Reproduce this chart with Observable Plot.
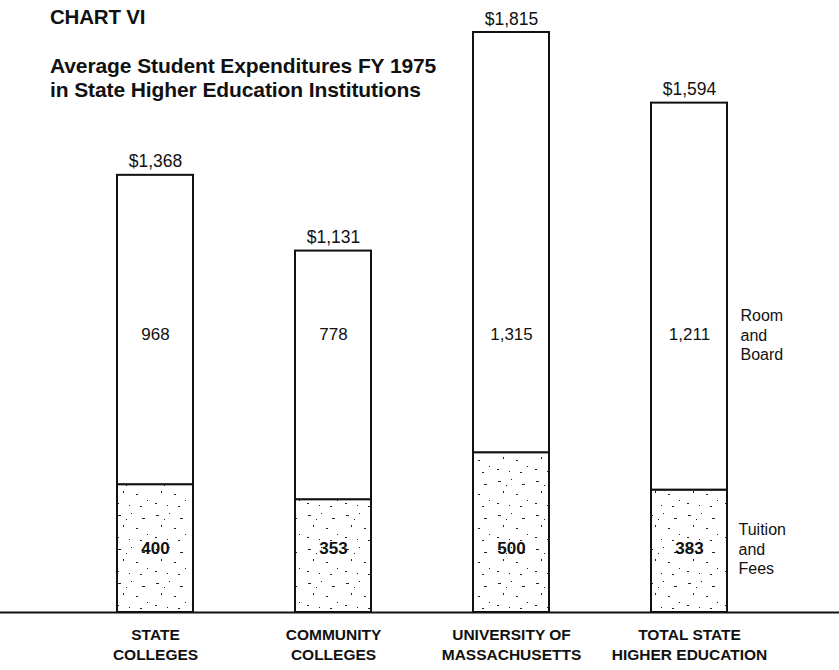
<!DOCTYPE html>
<html>
<head>
<meta charset="utf-8">
<script src="https://cdn.jsdelivr.net/npm/d3@7"></script>
<script src="https://cdn.jsdelivr.net/npm/@observablehq/plot@0.6"></script>
<style>
  html, body { margin: 0; padding: 0; background: #fff; }
  #wrap { position: relative; width: 839px; height: 670px; font-family: "Liberation Sans", Arial, sans-serif; color: #111; }
  #chartno { position: absolute; left: 50px; top: 5px; font-size: 20.5px; font-weight: bold; letter-spacing: -0.2px; }
  #title { position: absolute; left: 50px; top: 54px; font-size: 21px; font-weight: bold; line-height: 24px; letter-spacing: -0.1px; }
  #chart { position: absolute; left: 0; top: 0; }
</style>
</head>
<body>
<div id="wrap">
  <div id="chart"></div>
  <div id="chartno">CHART VI</div>
  <div id="title">Average Student Expenditures FY 1975<br>in State Higher Education Institutions</div>
</div>
<script>
// ---- data ----
const categories = ["STATE\nCOLLEGES", "COMMUNITY\nCOLLEGES", "UNIVERSITY OF\nMASSACHUSETTS", "TOTAL STATE\nHIGHER EDUCATION"];
const tuitionFees = [400, 353, 500, 383];
const roomBoard = [968, 778, 1315, 1211];
const totals = [1368, 1131, 1815, 1594];
const totalLabels = ["$1,368", "$1,131", "$1,815", "$1,594"];
const tuitionLabels = ["400", "353", "500", "383"];
const roomLabels = ["968", "778", "1,315", "1,211"];
const seriesNames = ["Tuition and Fees", "Room and Board"];
const legendLabels = ["Tuition\nand\nFees", "Room\nand\nBoard"];

// ---- build table ----
const rows = [];
categories.forEach((c, i) => {
  rows.push({cat: c, series: seriesNames[0], value: tuitionFees[i]});
  rows.push({cat: c, series: seriesNames[1], value: roomBoard[i]});
});
const totalRows = categories.map((c, i) => ({cat: c, total: totals[i], label: totalLabels[i]}));
// label levels (in data units) where the in-bar numbers sit
const roomLevel = 870;
const tuitionLevel = 200;
const roomRows = categories.map((c, i) => ({cat: c, label: roomLabels[i]}));
const tuitionRows = categories.map((c, i) => ({cat: c, label: tuitionLabels[i]}));
const lastCat = categories[categories.length - 1];

const font = "Liberation Sans, Arial, sans-serif";

const chart = Plot.plot({
  width: 839,
  height: 670,
  marginLeft: 0,
  marginRight: 0,
  marginTop: 32,
  marginBottom: 58,
  style: {fontFamily: font, color: "#111", background: "#fff"},
  x: {domain: categories, paddingInner: 0.573, paddingOuter: 0.643, align: 0.51, axis: null, label: null},
  y: {domain: [0, 1815], axis: null},
  color: {domain: seriesNames, range: ["url(#stipple)", "#fff"]},
  marks: [
    Plot.barY(rows, {x: "cat", y: "value", fill: "series", stroke: "#111", strokeWidth: 2}),
    Plot.ruleY([0], {stroke: "#111", strokeWidth: 2}),
    Plot.axisX({tickSize: 0, tickPadding: 13, fontSize: 15.5, fontWeight: "bold", lineHeight: 1.3, textAnchor: "middle", label: null}),
    Plot.text(totalRows, {x: "cat", y: "total", text: "label", lineAnchor: "bottom", dy: -8, fontSize: 17.5}),
    Plot.text(roomRows, {x: "cat", y: () => roomLevel, text: "label", fontSize: 17}),
    Plot.text(tuitionRows, {x: "cat", y: () => tuitionLevel, text: "label", fontSize: 17, fontWeight: "bold"}),
    Plot.text([lastCat], {x: d => d, y: () => roomLevel, text: () => legendLabels[1], textAnchor: "start", dx: 51, fontSize: 16, lineHeight: 1.22}),
    Plot.text([lastCat], {x: d => d, y: () => tuitionLevel, text: () => legendLabels[0], textAnchor: "start", dx: 49, fontSize: 16, lineHeight: 1.22})
  ]
});

// sparse stipple pattern for the tuition segment
const svg = d3.select(chart);
const defs = svg.insert("defs", ":first-child");
const pat = defs.append("pattern")
  .attr("id", "stipple").attr("patternUnits", "userSpaceOnUse")
  .attr("width", 38).attr("height", 34);
pat.append("rect").attr("width", 38).attr("height", 34).attr("fill", "#fff");
const specks = [[4,5,3,1],[17,3,1,1],[28,8,3,1],[9,15,1,2],[22,18,2,1],[33,24,1,1],[3,27,2,1],[15,29,1,1],[26,30,2,1],[12,9,1,1]];
specks.forEach(([x, y, w, h]) => pat.append("rect").attr("x", x).attr("y", y).attr("width", w).attr("height", h).attr("fill", "#222"));

document.getElementById("chart").appendChild(chart);
</script>
</body>
</html>
